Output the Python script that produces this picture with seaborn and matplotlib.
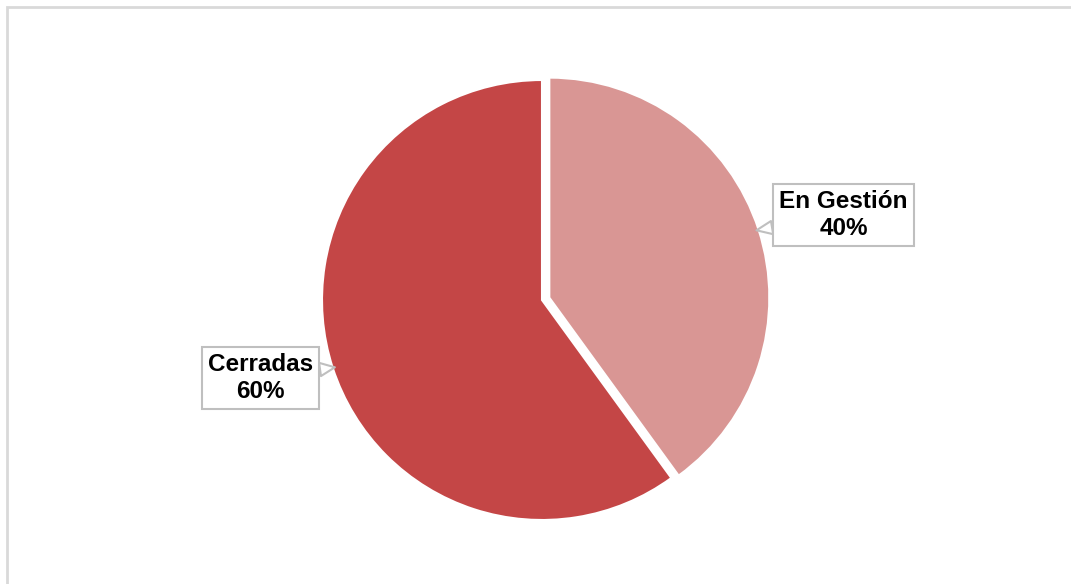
import numpy as np
import matplotlib.pyplot as plt
import matplotlib.patches as mpatches
import seaborn as sns

# data
labels = ["En Gestión", "Cerradas"]
shares = [40, 60]
colors = ["#D99694", "#C44646"]

sns.set_theme(style="white")
plt.rcParams["font.family"] = ["Liberation Sans", "DejaVu Sans"]

W, H = 1071, 584
fig = plt.figure(figsize=(W / 100, H / 100), dpi=100)
ax = fig.add_axes([0, 0, 1, 1])

wedges, _ = ax.pie(shares, colors=colors, startangle=90, counterclock=False,
                   explode=[0.035, 0], radius=1,
                   wedgeprops=dict(edgecolor="white", linewidth=1.5))

# pie centre at (542, 300) px, radius 220 px
R = 220.0
cx, cy = 542.0, 300.0
ax.set_aspect("auto")
ax.set_xlim(-cx / R, (W - cx) / R)
ax.set_ylim(-(H - cy) / R, cy / R)
ax.axis("off")

# callout labels, pointing at the middle of each slice
label_pos = [(1.37, 0.385), (-1.28, -0.355)]
for w, lab, v, pos in zip(wedges, labels, shares, label_pos):
    ang = np.deg2rad((w.theta1 + w.theta2) / 2)
    cxw, cyw = w.center
    tip = (cxw + 0.99 * np.cos(ang), cyw + 0.99 * np.sin(ang))
    ax.annotate(f"{lab}\n{v}%", xy=tip, xytext=pos, ha="center", va="center",
                fontsize=17.5, fontweight="bold", color="black", linespacing=1.2,
                bbox=dict(boxstyle="square,pad=0.26", fc="white", ec="#BFBFBF", lw=1.5),
                arrowprops=dict(arrowstyle="wedge,tail_width=0.55", fc="white",
                                ec="#BFBFBF", lw=1.5, shrinkA=0, shrinkB=0))

# outer chart frame
fig.patches.append(mpatches.Rectangle((7 / W, -0.05), 1.1, 1 - 7 / H + 0.05,
                                      transform=fig.transFigure, fill=False,
                                      ec="#D9D9D9", lw=2))

fig.savefig("out.png", dpi=100)
